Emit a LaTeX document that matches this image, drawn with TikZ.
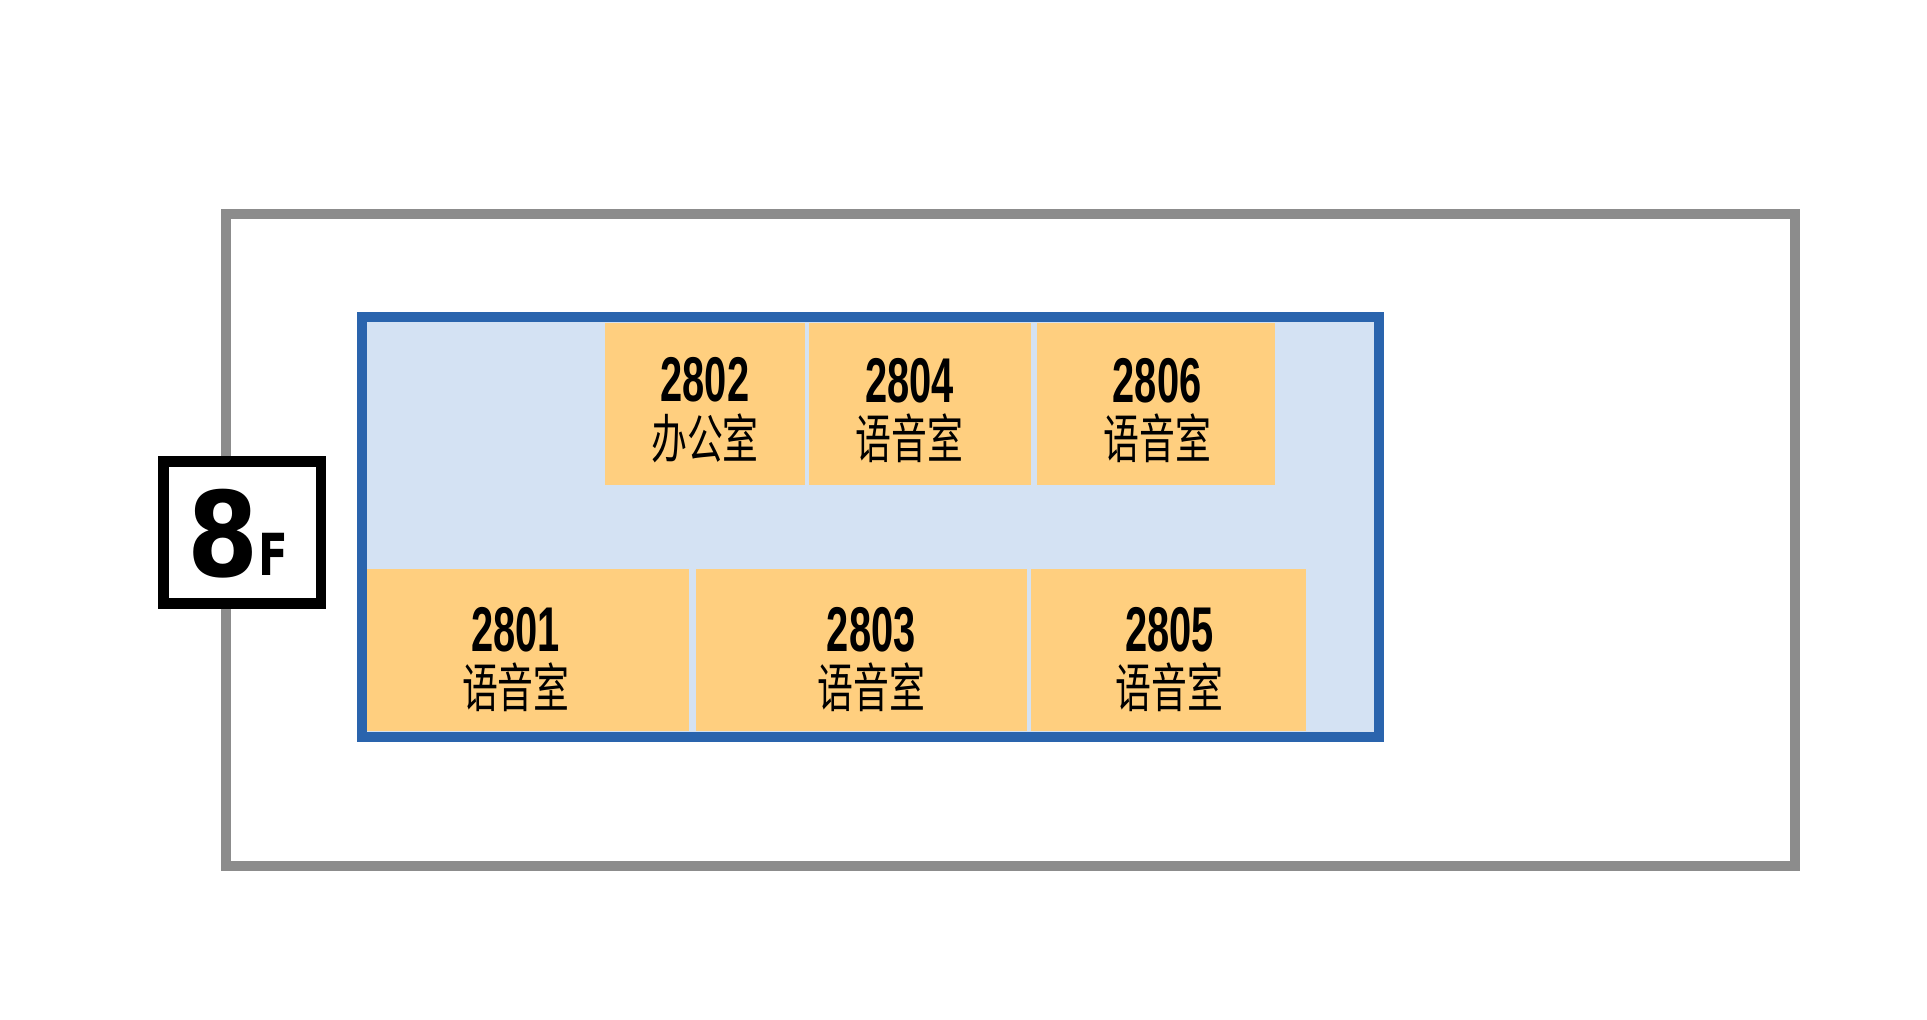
\documentclass[tikz,border=0pt]{standalone}
\usepackage{xcolor}
\usepackage{fontspec}
\usepackage{tikz}
\usetikzlibrary{positioning,calc}
\newfontfamily\numfont[FakeStretch=0.63]{Liberation Sans}
\newfontfamily\roomfont[FakeStretch=0.68]{Noto Sans CJK SC}
\newfontfamily\floorfont[FakeStretch=0.87]{DejaVu Sans}
\newfontfamily\floorsmallfont[FakeStretch=0.75]{DejaVu Sans}
\definecolor{wallgray}{HTML}{8C8C8C}
\definecolor{zoneblue}{HTML}{2A64AD}
\definecolor{zonefill}{HTML}{D4E2F3}
\definecolor{roomfill}{HTML}{FFCF7F}
\newcommand{\roomlabel}[2]{{\numfont\bfseries #1}\\{\roomfont\fontsize{30}{32}\selectfont #2}}

\begin{document}
\begin{tikzpicture}[
    x=0.02cm, y=-0.02cm,
    wall/.style={rectangle, draw=wallgray, line width=0.2cm, anchor=north west, inner sep=0pt, minimum width=31.39cm, minimum height=13.04cm},
    zone/.style={rectangle, draw=zoneblue, fill=zonefill, line width=0.2cm, anchor=north west, inner sep=0pt, minimum width=20.36cm, minimum height=8.4cm},
    room/.style={rectangle, fill=roomfill, inner sep=0pt, outer sep=0pt, minimum height=3.25cm},
    roomtext/.style={align=center, inner sep=0pt, font=\fontsize{36}{32}\selectfont},
    floorbox/.style={rectangle, draw=black, fill=white, line width=0.21cm, anchor=north west, inner sep=0pt, minimum width=3.16cm, minimum height=2.85cm},
]
\useasboundingbox (0,0) rectangle (1927,1019);

\node[wall] (W) at (221,209) {};
\node[zone] (Z) at (356.5,312.3) {};

\node[room, minimum width=4.00cm, anchor=north west] (R2802) at (605,322.7) {};
\node[room, minimum width=4.44cm, right=0.08cm of R2802] (R2804) {};
\node[room, minimum width=4.75cm, right=0.13cm of R2804] (R2806) {};
\node[room, minimum width=6.44cm, anchor=north west] (R2801) at (366.8,569) {};
\node[room, minimum width=6.62cm, right=0.14cm of R2801] (R2803) {};
\node[room, minimum width=5.50cm, right=0.09cm of R2803] (R2805) {};

\node[roomtext, yshift=-0.125cm] (T2802) at (R2802) {\roomlabel{2802}{办公室}};
\node[roomtext, yshift=-0.125cm, xshift=-0.21cm] (T2804) at (R2804) {\roomlabel{2804}{语音室}};
\node[roomtext, yshift=-0.125cm, xshift=0.02cm] (T2806) at (R2806) {\roomlabel{2806}{语音室}};
\node[roomtext, yshift=-0.185cm, xshift=-0.24cm] (T2801) at (R2801) {\roomlabel{2801}{语音室}};
\node[roomtext, yshift=-0.185cm, xshift=0.2cm] (T2803) at (R2803) {\roomlabel{2803}{语音室}};
\node[roomtext, yshift=-0.185cm, xshift=0.02cm] (T2805) at (R2805) {\roomlabel{2805}{语音室}};

\node[floorbox] (F) at (158,456) {};
\node[inner sep=0pt, anchor=base west, font=\floorfont\bfseries\fontsize{67}{67}\selectfont] (F8) at (187,576) {8};
\node[inner sep=0pt, anchor=base west, font=\floorsmallfont\bfseries\fontsize{33}{33}\selectfont] (FF) at (258,575) {F};

\end{tikzpicture}
\end{document}
